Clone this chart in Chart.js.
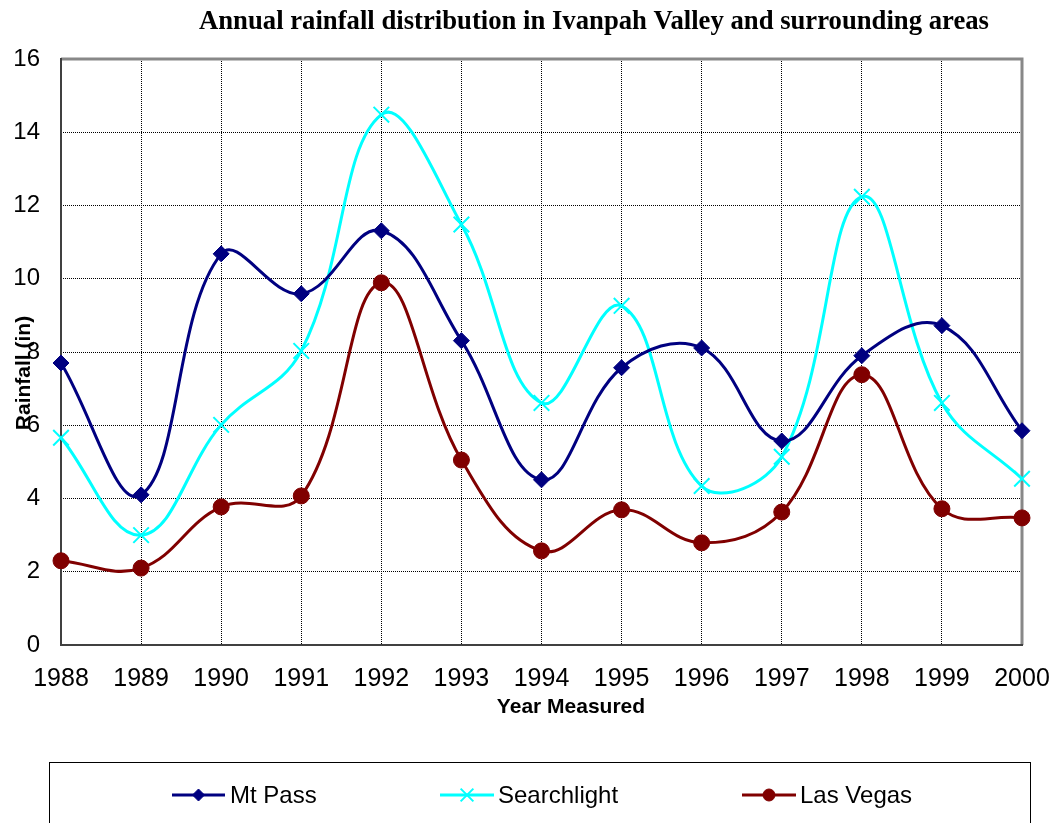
<!DOCTYPE html>
<html>
<head>
<meta charset="utf-8">
<title>Annual rainfall distribution</title>
<script src="https://cdn.jsdelivr.net/npm/chart.js@4.4.0/dist/chart.umd.min.js"></script>
<style>
  body { margin: 0; background: #fff; }
  canvas { display: block; }
</style>
</head>
<body>
<canvas id="rainChart" width="1057" height="823"></canvas>
<script>
const years = ['1988', '1989', '1990', '1991', '1992', '1993', '1994', '1995', '1996', '1997', '1998', '1999', '2000'];
const mtPass = [7.70, 4.10, 10.68, 9.59, 11.31, 8.31, 4.51, 7.57, 8.11, 5.57, 7.90, 8.72, 5.85];
const searchlight = [5.66, 3.00, 6.01, 8.03, 14.48, 11.48, 6.61, 9.26, 4.34, 5.14, 12.24, 6.61, 4.54];
const lasVegas = [2.30, 2.10, 3.77, 4.07, 9.89, 5.05, 2.57, 3.69, 2.79, 3.63, 7.38, 3.72, 3.47];

const seriesNames = ['Mt Pass', 'Searchlight', 'Las Vegas'];
const seriesColors = ['#000080', '#00FFFF', '#800000'];
const seriesMarkers = ['rectRot', 'crossRot', 'circle'];

const titleText = 'Annual rainfall distribution in Ivanpah Valley and surrounding areas';
const xTitle = 'Year Measured';
const yTitle = 'Rainfall (in)';

function makeSet(i, data, radius) {
    return {
        label: seriesNames[i],
        data: data,
        borderColor: seriesColors[i],
        backgroundColor: seriesColors[i],
        borderWidth: 3,
        pointStyle: seriesMarkers[i],
        pointRadius: radius,
        pointBorderWidth: seriesMarkers[i] === 'crossRot' ? 2 : 1,
        pointBackgroundColor: seriesColors[i],
        pointBorderColor: seriesColors[i],
        tension: 0.4,
        clip: false
    };
}

// frame, titles and legend drawn by hand to sit where the original has them
const decorations = {
    id: 'decorations',
    beforeDatasetsDraw(chart) {
        const ctx = chart.ctx;
        const a = chart.chartArea;
        ctx.save();
        ctx.lineWidth = 3;
        ctx.strokeStyle = '#888';
        ctx.beginPath();
        ctx.moveTo(a.left, a.top);
        ctx.lineTo(a.right, a.top);
        ctx.lineTo(a.right, a.bottom);
        ctx.stroke();
        ctx.lineWidth = 2;
        ctx.strokeStyle = '#404040';
        ctx.beginPath();
        ctx.moveTo(a.left, a.top - 1);
        ctx.lineTo(a.left, a.bottom);
        ctx.lineTo(a.right + 1, a.bottom);
        ctx.stroke();
        ctx.restore();
    },
    afterDraw(chart) {
        const ctx = chart.ctx;
        ctx.save();
        ctx.fillStyle = '#000';

        ctx.font = 'bold 26.7px "Liberation Serif", "Times New Roman", serif';
        ctx.textAlign = 'center';
        ctx.textBaseline = 'alphabetic';
        ctx.fillText(titleText, 594, 29);

        ctx.font = 'bold 21px "Liberation Sans", Arial, sans-serif';
        ctx.fillText(xTitle, 571, 713);

        ctx.save();
        ctx.translate(30, 373);
        ctx.rotate(-Math.PI / 2);
        ctx.fillText(yTitle, 0, 0);
        ctx.restore();

        // legend box
        ctx.lineWidth = 1;
        ctx.strokeStyle = '#000';
        ctx.strokeRect(49.5, 762.5, 981, 90);

        const items = [
            { x0: 172, x1: 225, tx: 230 },
            { x0: 440, x1: 494, tx: 498 },
            { x0: 742, x1: 796, tx: 800 }
        ];
        const ly = 795;
        ctx.font = '24px "Liberation Sans", Arial, sans-serif';
        ctx.textAlign = 'left';
        items.forEach((it, i) => {
            ctx.strokeStyle = seriesColors[i];
            ctx.lineWidth = 3;
            ctx.beginPath();
            ctx.moveTo(it.x0, ly);
            ctx.lineTo(it.x1, ly);
            ctx.stroke();
            ctx.lineWidth = seriesMarkers[i] === 'crossRot' ? 2 : 1;
            ctx.fillStyle = seriesColors[i];
            Chart.helpers.drawPoint(ctx, {
                pointStyle: seriesMarkers[i],
                radius: seriesMarkers[i] === 'crossRot' ? 9 : 6,
                rotation: 0,
                borderWidth: ctx.lineWidth
            }, (it.x0 + it.x1) / 2, ly);
            ctx.fillStyle = '#000';
            ctx.fillText(seriesNames[i], it.tx, 803);
        });
        ctx.restore();
    }
};

const ctx = document.getElementById('rainChart').getContext('2d');
const chart = new Chart(ctx, {
    type: 'line',
    data: {
        labels: years,
        datasets: [
            makeSet(0, mtPass, 8),
            makeSet(1, searchlight, 11),
            makeSet(2, lasVegas, 8)
        ]
    },
    options: {
        responsive: false,
        animation: false,
        devicePixelRatio: 1,
        layout: { padding: { top: 59, right: 35, left: 0, bottom: 0 } },
        plugins: {
            legend: { display: false },
            title: { display: false },
            tooltip: { enabled: false }
        },
        scales: {
            x: {
                offset: false,
                afterFit(scale) {
                    scale.height = 178;
                    scale.paddingLeft = 0;
                    scale.paddingRight = 0;
                },
                grid: { color: '#000', lineWidth: 1, drawTicks: false },
                border: { display: false, dash: [1, 1] },
                ticks: {
                    color: '#000',
                    padding: 19,
                    maxRotation: 0,
                    autoSkip: false,
                    font: { family: '"Liberation Sans", Arial, sans-serif', size: 25 }
                }
            },
            y: {
                min: 0,
                max: 16,
                afterFit(scale) { scale.width = 61; },
                grid: { color: '#000', lineWidth: 1, drawTicks: false },
                border: { display: false, dash: [1, 1] },
                ticks: {
                    stepSize: 2,
                    color: '#000',
                    padding: 21,
                    font: { family: '"Liberation Sans", Arial, sans-serif', size: 24 }
                }
            }
        }
    },
    plugins: [decorations]
});
</script>
</body>
</html>
